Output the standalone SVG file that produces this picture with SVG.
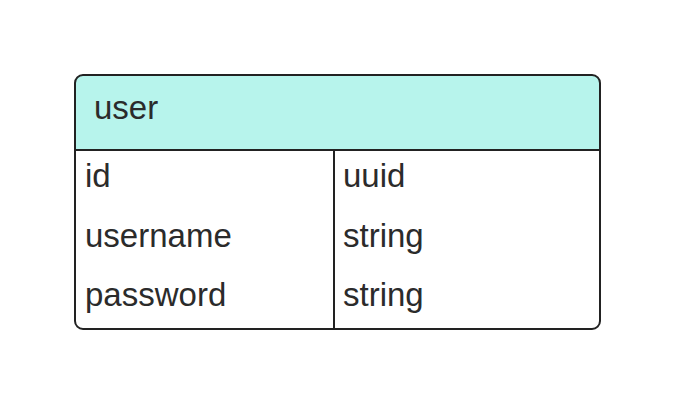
<svg xmlns="http://www.w3.org/2000/svg" width="675" height="405" viewBox="0 0 675 405">
<style>
text{font-family:"Liberation Sans",Arial,sans-serif;font-size:33px;fill:#2b2b2b}
.ln{stroke:#222;stroke-width:2;fill:none}
</style>
<rect width="675" height="405" fill="#fff"/>
<g id="user">
<path d="M75,150 V83 Q75,75 83,75 H592 Q600,75 600,83 V150 Z" fill="#b7f4ec"/>
<rect x="75" y="75" width="525" height="254" rx="8" class="ln"/>
<line x1="75" y1="150" x2="600" y2="150" class="ln"/>
<line x1="334" y1="150" x2="334" y2="329" class="ln"/>
<text x="94" y="119">user</text>
<text x="85" y="187">id</text>
<text x="343" y="187">uuid</text>
<text x="85" y="247">username</text>
<text x="343" y="247">string</text>
<text x="85" y="306">password</text>
<text x="343" y="306">string</text>
</g>
<g id="connectors"></g>
</svg>
